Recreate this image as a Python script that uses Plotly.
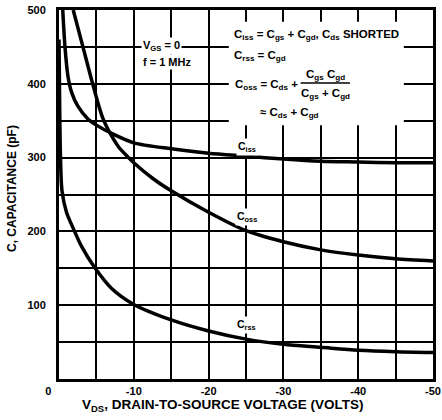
import plotly.graph_objects as go

# ---- data ----
v_iss = [-0.5, -0.8, -1.2, -1.7, -2.5, -3.9, -5, -7, -10, -15, -20, -25, -30, -35, -40, -45, -50]
c_iss = [500, 450, 410, 388, 370, 352, 344, 333, 320, 312, 306, 302, 298, 295, 294, 293, 293]

v_oss = [-1.9, -3.2, -4.5, -5.8, -7, -8, -9.3, -10, -12.5, -15, -20, -25, -30, -35, -40, -45, -50]
c_oss = [500, 450, 400, 355, 330, 314, 300, 293, 272, 255, 226, 201, 186, 175, 168, 163, 160]

v_rss = [0, -0.1, -0.2, -0.4, -1, -2, -3, -4.7, -7, -10, -15, -20, -25, -30, -35, -40, -45, -50]
c_rss = [460, 360, 300, 255, 226, 202, 180, 152, 123, 101, 80, 65, 54, 47, 43, 39, 37, 36]

x_ticks = [0, -10, -20, -30, -40, -50]
x_ticktext = ["0" + "\u00a0" * 7, "-10", "-20", "-30", "-40", "-50"]
y_ticks = [100, 200, 300, 400, 500]
y_ticktext = ["100", "200", "300", "400", "500"]

FONT = "Liberation Sans, Arial, sans-serif"

fig = go.Figure()
for vx, cy in [(v_iss, c_iss), (v_oss, c_oss), (v_rss, c_rss)]:
    fig.add_trace(go.Scatter(x=vx, y=cy, mode="lines",
                             line=dict(color="black", width=3.5, shape="spline", smoothing=0.8),
                             hoverinfo="skip", showlegend=False))

fig.update_layout(
    width=442, height=420,
    margin=dict(l=59, r=9, t=10, b=41),
    paper_bgcolor="white", plot_bgcolor="white",
    font=dict(family=FONT, color="black", size=11, weight="bold"),
    showlegend=False,
)
fig.update_xaxes(
    range=[0, -50], tickvals=x_ticks, ticktext=x_ticktext, automargin=False,
    showgrid=True, gridcolor="black", gridwidth=1.6,
    minor=dict(dtick=5, showgrid=True, gridcolor="black", gridwidth=1.6, ticks=""),
    showline=True, linecolor="black", linewidth=3, mirror=True,
    ticks="", zeroline=False,
    tickfont=dict(family=FONT, size=11, weight="bold"),
)
fig.update_yaxes(
    range=[0, 500], tickvals=y_ticks, ticktext=y_ticktext, automargin=False,
    showgrid=True, gridcolor="black", gridwidth=1.6,
    minor=dict(dtick=50, showgrid=True, gridcolor="black", gridwidth=1.6, ticks=""),
    showline=True, linecolor="black", linewidth=3, mirror=True,
    ticks="", zeroline=False, ticklabelstandoff=8,
    tickfont=dict(family=FONT, size=11, weight="bold"),
)

# white box behind the formula block (covers gridlines, below traces)
fig.add_shape(type="rect", xref="x", yref="y", x0=-22.7, x1=-46.1, y0=344, y1=484,
              fillcolor="white", line=dict(width=0), layer="between")

ann = []
def txt(x, y, s, size=11.5, xanchor="left", bg=None, xref="x", yref="y", **kw):
    d = dict(x=x, y=y, xref=xref, yref=yref, text=s, showarrow=False,
             xanchor=xanchor, yanchor="middle",
             font=dict(family=FONT, size=size, color="black", weight="bold"))
    if bg:
        d["bgcolor"] = bg
        d["borderpad"] = 1
    d.update(kw)
    ann.append(d)

# formula block
txt(-23.1, 466, "C<sub>iss</sub> = C<sub>gs</sub> + C<sub>gd</sub>, C<sub>ds</sub> SHORTED")
txt(-23.1, 438, "C<sub>rss</sub> = C<sub>gd</sub>")
txt(-23.3, 398, "C<sub>oss</sub> = C<sub>ds</sub> +")
txt(-35.6, 412, "C<sub>gs</sub> C<sub>gd</sub>", xanchor="center")
txt(-35.6, 386, "C<sub>gs</sub> + C<sub>gd</sub>", xanchor="center")
txt(-26.6, 361, "\u2248 C<sub>ds</sub> + C<sub>gd</sub>")
fig.add_shape(type="line", xref="x", yref="y", x0=-32.3, x1=-38.9, y0=401, y1=401,
              line=dict(color="black", width=1.5))

# test conditions
txt(-11.0, 451, "V<sub>GS</sub> = 0", size=11, bg="white")
txt(-11.0, 430, "f = 1 MHz", size=11, bg="white")

# curve labels
txt(-25.1, 314, "C<sub>iss</sub>", size=10.5, xanchor="center", bg="white")
txt(-25.1, 220, "C<sub>oss</sub>", size=10.5, xanchor="center", bg="white")
txt(-25.1, 73, "C<sub>rss</sub>", size=10.5, xanchor="center", bg="white")

# axis titles
txt((222 - 59) / (433 - 59), (379 - 405) / (379 - 10),
    "V<sub>DS</sub>, DRAIN-TO-SOURCE VOLTAGE (VOLTS)", size=13.5,
    xanchor="center", xref="paper", yref="paper")
txt((12 - 59) / (433 - 59), (379 - 189) / (379 - 10), "C, CAPACITANCE (pF)", size=12,
    xanchor="center", xref="paper", yref="paper", textangle=-90)

fig.update_layout(annotations=ann)
fig.write_html("out.html", config={"displayModeBar": False},
               post_script="document.body.style.margin='0';document.body.style.padding='0';")
